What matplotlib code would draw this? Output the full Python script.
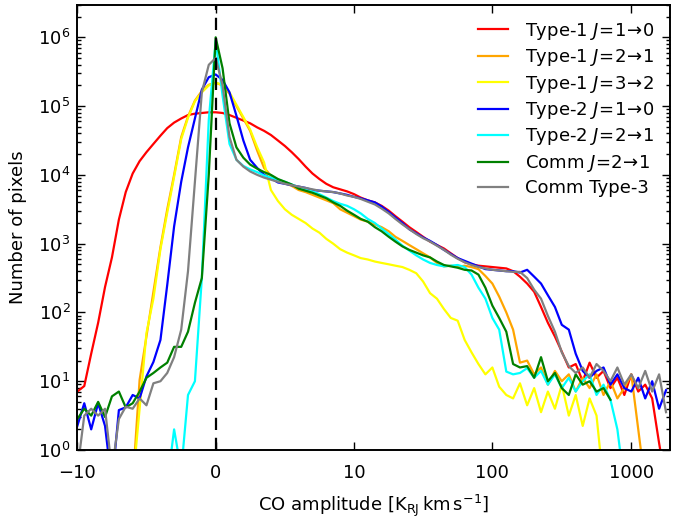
import numpy as np
import matplotlib
matplotlib.use("Agg")
import matplotlib.pyplot as plt
from matplotlib.ticker import NullLocator, FixedLocator, FixedFormatter

plt.rcParams["font.family"] = ["DejaVu Sans"]
plt.rcParams["mathtext.fontset"] = "dejavusans"
plt.rcParams["font.size"] = 13

# histogram bin centres, CO amplitude [K_RJ km/s]
amp = [
    -10.0, -8.89, -7.90, -7.01, -6.22, -5.51, -4.87, -4.30, -3.78, -3.31,
    -2.89, -2.50, -2.14, -1.82, -1.52, -1.23, -0.969, -0.716, -0.472, -0.234,
    0.0, 0.234, 0.472, 0.716, 0.969, 1.23, 1.52, 1.82, 2.14, 2.50,
    2.89, 3.31, 3.78, 4.30, 4.87, 5.51, 6.22, 7.01, 7.90, 8.89,
    10.0, 11.2, 12.6, 14.2, 15.9, 17.9, 20.0, 22.5, 25.2, 28.3,
    31.7, 35.6, 39.9, 44.8, 50.2, 56.3, 63.2, 70.8, 79.4, 89.1,
    100, 112, 126, 141, 158, 178, 200, 224, 251, 282,
    316, 355, 398, 447, 501, 562, 631, 708, 794, 891,
    1000, 1122, 1259, 1413, 1585, 1778,
]

# log10(number of pixels), one value per bin
t1_10 = [
    0.85, 0.93, 1.4, 1.85, 2.37, 2.8, 3.35, 3.75, 4.02, 4.2,
    4.33, 4.45, 4.57, 4.68, 4.76, 4.82, 4.87, 4.89, 4.9, 4.91,
    4.91, 4.9, 4.87, 4.83, 4.79, 4.75, 4.69, 4.64, 4.58, 4.5,
    4.42, 4.33, 4.23, 4.12, 4.02, 3.94, 3.87, 3.82, 3.79, 3.76,
    3.72, 3.67, 3.63, 3.6, 3.55, 3.48, 3.4, 3.32, 3.24, 3.17,
    3.1, 3.03, 2.98, 2.93, 2.86, 2.79, 2.73, 2.7, 2.68, 2.67,
    2.66, 2.65, 2.64, 2.6, 2.52, 2.42, 2.3, 2.08, 1.85, 1.65,
    1.43, 1.2, 1.25, 1.0, 1.27, 1.05, 1.15, 0.9, 1.05, 0.8,
    1.1, 0.85, 0.95, 0.75, 0.1, -0.5,
]
t1_21 = [
    -0.5, -0.5, -0.5, -0.5, -0.5, -0.5, -0.5, -0.5, -0.5, 1.02,
    1.65, 2.3, 2.95, 3.5, 4.0, 4.55, 4.85, 5.08, 5.22, 5.31,
    5.34, 5.3, 5.18, 5.0, 4.82, 4.64, 4.35, 4.1, 3.99, 3.93,
    3.88, 3.84, 3.78, 3.75, 3.71, 3.67, 3.63, 3.59, 3.5, 3.45,
    3.4, 3.35, 3.32, 3.28, 3.24, 3.18, 3.1, 3.04, 2.98, 2.92,
    2.86, 2.8, 2.72, 2.67, 2.68, 2.66, 2.68, 2.66, 2.63, 2.53,
    2.42, 2.23, 2.0, 1.75, 1.27, 1.3, 1.1, 1.2, 0.95, 1.15,
    1.0, 1.1, 0.85, 1.05, 0.9, 1.1, 0.8, 1.0, 0.75, 0.9,
    1.1, 0.3, -0.5, -0.5, -0.5, -0.5,
]
t1_32 = [
    -0.5, -0.5, -0.5, -0.5, -0.5, -0.5, -0.5, -0.5, -0.5, 0.6,
    1.7, 2.2, 2.92, 3.45, 3.97, 4.52, 4.83, 5.07, 5.2, 5.3,
    5.34, 5.31, 5.2, 5.02, 4.84, 4.66, 4.4, 4.18, 3.78, 3.62,
    3.5, 3.42, 3.36, 3.3, 3.22, 3.16, 3.07, 3.0, 2.92, 2.87,
    2.83, 2.79, 2.77, 2.74, 2.72, 2.7, 2.68, 2.66, 2.62, 2.57,
    2.45, 2.28, 2.2, 2.05, 1.92, 1.88, 1.6, 1.42, 1.25, 1.1,
    1.2, 0.92, 0.8, 0.75, 0.97, 0.65, 0.9, 0.55, 0.85, 0.6,
    0.95, 0.5, 0.8, 0.35, 0.75, 0.5, -0.5, -0.5, -0.5, -0.5,
    -0.5, -0.5, -0.5, -0.5, -0.5, -0.5,
]
t2_10 = [
    0.35, 0.68, 0.3, 0.68, 0.35, -0.5, 0.58, 0.62, 0.8, 0.75,
    1.07, 1.28, 1.6, 2.4, 3.25, 3.9, 4.4, 4.82, 5.24, 5.42,
    5.46, 5.38, 5.2, 4.86, 4.5, 4.22, 4.1, 4.0, 3.95, 3.89,
    3.87, 3.85, 3.83, 3.81, 3.78, 3.77, 3.76, 3.75, 3.73, 3.71,
    3.68, 3.66, 3.63, 3.6, 3.54, 3.46, 3.38, 3.3, 3.21, 3.15,
    3.09, 3.04, 2.98, 2.91, 2.85, 2.79, 2.75, 2.71, 2.67, 2.63,
    2.62, 2.61, 2.6, 2.6, 2.58, 2.62, 2.52, 2.42, 2.25, 2.08,
    1.82, 1.75, 1.4, 1.15, 1.05, 1.15, 1.2, 0.95, 1.1, 0.9,
    0.85, 1.05, 0.75, 1.0, 0.6, 0.87,
]
t2_21 = [
    -0.5, -0.5, -0.5, -0.5, -0.5, -0.5, -0.5, -0.5, -0.5, -0.5,
    -0.5, -0.5, -0.5, -0.5, 0.3, -0.3, 0.8, 1.0, 2.5, 4.8,
    5.95, 5.15, 4.45, 4.22, 4.13, 4.08, 4.04, 3.99, 3.96, 3.93,
    3.9, 3.86, 3.82, 3.78, 3.76, 3.72, 3.67, 3.62, 3.58, 3.55,
    3.5, 3.44, 3.36, 3.3, 3.22, 3.14, 3.06, 2.97, 2.9, 2.83,
    2.77, 2.72, 2.69, 2.67, 2.68, 2.69, 2.66, 2.55, 2.36, 2.2,
    1.92, 1.75, 1.14, 1.1, 1.12, 1.19, 1.05, 1.15, 0.95, 1.1,
    0.9, 1.05, 0.85, 1.0, 1.1, 0.8, 0.95, 0.73, 0.3, -0.5,
    -0.5, -0.5, -0.5, -0.5, -0.5, -0.5,
]
comm_21 = [
    0.45, 0.6, 0.5, 0.7, 0.48, 0.78, 0.85, 0.62, 0.68, 0.85,
    1.05, 1.12, 1.2, 1.27, 1.5, 1.5, 1.72, 2.14, 2.5, 4.0,
    6.0, 5.55, 4.75, 4.4, 4.25, 4.15, 4.09, 4.04, 4.0, 3.94,
    3.9, 3.86, 3.8, 3.77, 3.74, 3.7, 3.66, 3.6, 3.55, 3.48,
    3.42, 3.36, 3.32, 3.24, 3.18, 3.1, 3.03, 2.96, 2.91, 2.87,
    2.83, 2.8, 2.74, 2.69, 2.67, 2.65, 2.62, 2.61, 2.55, 2.36,
    2.1, 1.92, 1.72, 1.25, 1.2, 1.22, 1.05, 1.35, 1.0, 1.12,
    0.9, 0.8, 1.1, 0.95, 1.0, 0.85, 0.9, 0.73, np.nan, np.nan,
    np.nan, np.nan, np.nan, np.nan, np.nan, np.nan,
]
comm_t3 = [
    -0.3, 0.5, 0.6, 0.5, 0.6, -0.3, 0.45, 0.63, 0.6, 0.75,
    0.65, 0.97, 1.0, 1.12, 1.35, 1.75, 2.6, 3.9, 5.2, 5.6,
    5.7, 5.3, 4.55, 4.22, 4.12, 4.05, 4.0, 3.96, 3.93, 3.9,
    3.87, 3.85, 3.83, 3.81, 3.79, 3.77, 3.76, 3.75, 3.73, 3.7,
    3.68, 3.65, 3.61, 3.57, 3.51, 3.44, 3.36, 3.28, 3.21, 3.14,
    3.08, 3.03, 2.97, 2.91, 2.84, 2.78, 2.73, 2.69, 2.66, 2.64,
    2.62, 2.61, 2.6, 2.59, 2.59, 2.5, 2.33, 2.2, 1.95, 1.72,
    1.42, 1.22, 1.12, 1.2, 1.05, 1.25, 1.15, 1.0, 1.2, 0.95,
    1.1, 0.9, 1.15, 0.85, 1.1, 0.55,
]

series = [
    (t1_10, "red", r"Type-1 $J\!=\!1\!\rightarrow\!0$"),
    (t1_21, "orange", r"Type-1 $J\!=\!2\!\rightarrow\!1$"),
    (t1_32, "yellow", r"Type-1 $J\!=\!3\!\rightarrow\!2$"),
    (t2_10, "blue", r"Type-2 $J\!=\!1\!\rightarrow\!0$"),
    (t2_21, "cyan", r"Type-2 $J\!=\!2\!\rightarrow\!1$"),
    (comm_21, "green", r"Comm $J\!=\!2\!\rightarrow\!1$"),
    (comm_t3, "gray", "Comm Type-3"),
]

fig = plt.figure(figsize=(6.73, 5.24), dpi=100)
ax = fig.add_axes([0.1149, 0.1412, 0.8807, 0.8502])

x = np.array(amp)
for logs, col, lab in series:
    ax.plot(x, 10.0 ** np.array(logs), color=col, lw=1.6, label=lab)

ax.axvline(0, color="black", ls=(0, (5.5, 3.5)), lw=1.6, zorder=5)

ax.set_xscale("asinh", linear_width=2.041)
ax.set_yscale("log")
ax.set_xlim(-10, 1900)
ax.set_ylim(1, 3e6)

xt = [-10, 0, 10, 100, 1000]
ax.xaxis.set_major_locator(FixedLocator(xt))
ax.xaxis.set_major_formatter(FixedFormatter(["\u221210", "0", "10", "100", "1000"]))
ax.xaxis.set_minor_locator(NullLocator())

ax.tick_params(which="both", direction="in", top=True, right=True, width=1)
ax.tick_params(which="major", length=6)
ax.tick_params(which="minor", length=3)
ax.tick_params(axis="x", pad=10)
ax.tick_params(axis="y", pad=5)
for s in ax.spines.values():
    s.set_linewidth(1.4)

ax.set_xlabel(r"CO amplitude [$\mathrm{K_{RJ}\,km\,s^{-1}}$]", labelpad=8)
ax.set_ylabel("Number of pixels", labelpad=8)

ax.legend(loc="upper right", frameon=False, fontsize=13,
          handlelength=1.7, handletextpad=0.9, labelspacing=0.3)

fig.savefig("out.png", dpi=100)
